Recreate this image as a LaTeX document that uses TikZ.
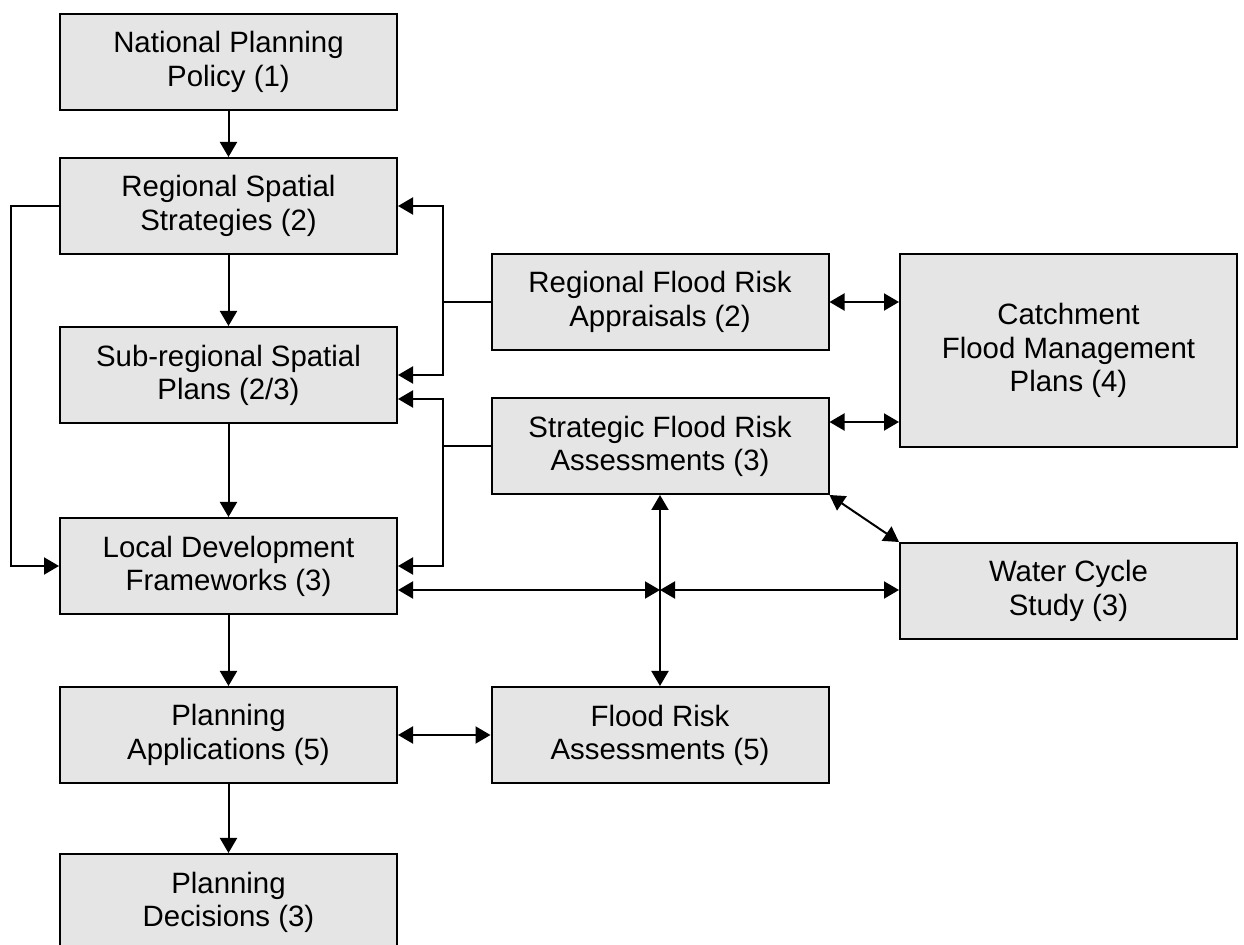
\documentclass[tikz,border=0pt]{standalone}
\usepackage{fontspec}
\setmainfont{Liberation Sans}
\usetikzlibrary{arrows.meta}

\tikzset{
	box/.style={draw,line width=1pt,fill=black!10,align=center,
		minimum width=168.5pt,minimum height=48pt,inner sep=0pt,
		font=\fontsize{14.7}{16.6}\selectfont},
	link/.style={line width=1pt,-{Triangle[length=7.5pt,width=8.5pt]}},
	both/.style={line width=1pt,{Triangle[length=7.5pt,width=8.5pt]}-{Triangle[length=7.5pt,width=8.5pt]}}
}

\begin{document}
\begin{tikzpicture}[x=0.5pt,y=-0.5pt]
	\useasboundingbox (0,0) rectangle (1244,945);

	% Left column:
	% The planning chain, one box under the other
	\node [box] (nat)  at (228.5,62)  {National Planning\\Policy (1)};
	\node [box] (rss)  at (228.5,206) {Regional Spatial\\Strategies (2)};
	\node [box] (srsp) at (228.5,375) {Sub-regional Spatial\\Plans (2/3)};
	\node [box] (ldf)  at (228.5,566) {Local Development\\Frameworks (3)};
	\node [box] (papp) at (228.5,735) {Planning\\Applications (5)};
	\node [box] (pdec) at (228.5,902) {Planning\\Decisions (3)};

	% Flood risk boxes:
	\node [box] (rfra) at (660,302) {Regional Flood Risk\\Appraisals (2)};
	\node [box] (sfra) at (660,446) {Strategic Flood Risk\\Assessments (3)};
	\node [box] (fra)  at (660,735) {Flood Risk\\Assessments (5)};
	\node [box,minimum height=96.5pt] (cfmp) at (1068.5,350.5) {Catchment\\Flood Management\\Plans (4)};
	\node [box] (wcs)  at (1068.5,591) {Water Cycle\\Study (3)};

	% Down the chain:
	\draw [link] (nat)  -- (rss);
	\draw [link] (rss)  -- (srsp);
	\draw [link] (srsp) -- (ldf);
	\draw [link] (ldf)  -- (papp);
	\draw [link] (papp) -- (pdec);
	\draw [link] (rss.west) -- ++(-48,0) |- (ldf.west);

	% Feeding back into the plans:
	\draw [link] (rfra.west) -- ++(-48,0) |- (rss.east);
	\draw [link] (rfra.west) -- ++(-48,0) |- (srsp.east);
	\draw [link] (sfra.west) -- ++(-48,0) |- ([yshift=-12pt]srsp.east);
	\draw [link] (sfra.west) -- ++(-48,0) |- (ldf.east);

	% Two-way links:
	\coordinate (hub) at (660,590);
	\coordinate (s1) at ([yshift=12pt]sfra.east);
	\draw [both] ([yshift=-12pt]ldf.east) -- (hub);
	\draw [both] (hub) -- (hub -| wcs.west);
	\draw [both] (sfra.south) -- (fra.north);
	\draw [both] (rfra.east) -- (rfra.east -| cfmp.west);
	\draw [both] (s1) -- (s1 -| cfmp.west);
	\draw [both] (sfra.south east) -- (wcs.north west);
	\draw [both] (papp) -- (fra);
\end{tikzpicture}
\end{document}
